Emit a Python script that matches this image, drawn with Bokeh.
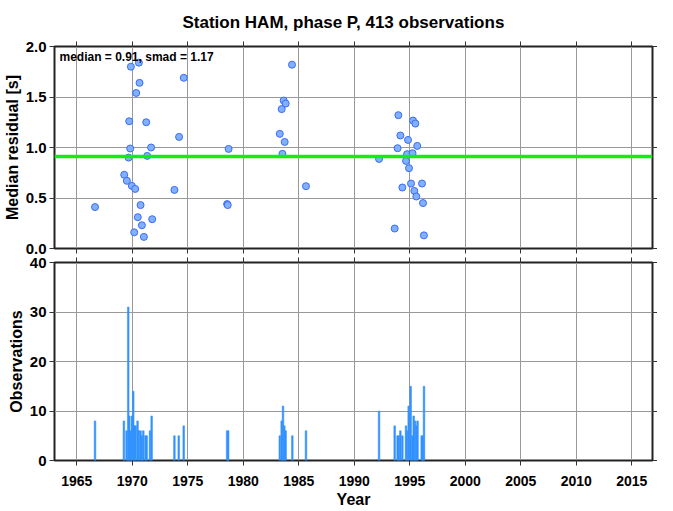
from bokeh.plotting import figure
from bokeh.layouts import column
from bokeh.models import (Range1d, FixedTicker, LinearAxis, PrintfTickFormatter,
                          Label, Span)
from bokeh.embed import file_html
from bokeh.resources import INLINE

# ---------------- data ----------------
title_text = "Station HAM, phase P, 413 observations"
median_val = 0.91
smad_val = 1.17

pt_year = [1966.65, 1969.88, 1970.6, 1974.64, 1970.66, 1970.36, 1969.73, 1971.26, 1974.22,
           1969.82, 1971.7, 1978.68, 1969.67, 1971.35, 1969.28, 1969.52, 1969.97, 1970.27,
           1973.8, 1978.55, 1978.6, 1970.75, 1970.5, 1971.8, 1970.87, 1970.18, 1971.05,
           1984.39, 1983.64, 1983.82, 1983.46, 1983.29, 1983.73, 1983.53, 1985.65, 1992.23,
           1993.64, 1993.97, 1995.29, 1995.5, 1994.15, 1994.84, 1995.67, 1993.9, 1994.75,
           1995.25, 1994.66, 1994.93, 1995.11, 1996.1, 1994.33, 1995.41, 1995.59, 1996.19,
           1996.27]
pt_val = [0.41, 1.80, 1.84, 1.69, 1.64, 1.54, 1.26, 1.25, 1.105,
          0.99, 1.00, 0.986, 0.90, 0.917, 0.73, 0.67, 0.62, 0.59,
          0.58, 0.44, 0.43, 0.43, 0.31, 0.29, 0.23, 0.16, 0.115,
          1.82, 1.465, 1.435, 1.38, 1.135, 1.055, 0.937, 0.617, 0.887,
          0.198, 1.32, 1.267, 1.237, 1.119, 1.075, 1.016, 0.993, 0.934,
          0.943, 0.867, 0.795, 0.643, 0.643, 0.604, 0.57, 0.515, 0.45,
          0.13]

bar_year = [1966.65, 1969.25, 1969.49, 1969.64, 1969.73, 1969.85, 1969.97, 1970.09, 1970.21,
            1970.3, 1970.48, 1970.6, 1970.75, 1970.87, 1971.0, 1971.2, 1971.3, 1971.6,
            1971.75, 1973.8, 1974.19, 1974.64, 1978.55, 1978.64, 1983.29, 1983.46, 1983.58,
            1983.7, 1983.82, 1984.42, 1985.65, 1992.23, 1993.64, 1993.9, 1994.0, 1994.15,
            1994.33, 1994.66, 1994.75, 1994.9, 1995.08, 1995.23, 1995.35, 1995.47, 1995.59,
            1995.7, 1996.07, 1996.16, 1996.28]
bar_count = [8, 8, 6, 31, 9, 6, 9, 14, 7,
             7, 8, 6, 6, 5, 6, 5, 5, 6,
             9, 5, 5, 7, 6, 6, 5, 8, 11,
             7, 6, 5, 6, 10, 7, 5, 5, 6,
             5, 7, 6, 11, 15, 5, 9, 8, 7,
             8, 5, 5, 15]

x_ticks = [1965, 1970, 1975, 1980, 1985, 1990, 1995, 2000, 2005, 2010, 2015]
top_y_ticks = [0.0, 0.5, 1.0, 1.5, 2.0]
bot_y_ticks = [0, 10, 20, 30, 40]
x_start, x_end = 1963.0, 2016.86

FONT = "Liberation Sans"
W = 657


def style_axis(ax, ticks, labels=True, size="15px"):
    ax.ticker = FixedTicker(ticks=ticks)
    ax.axis_line_color = None
    ax.major_tick_out = 5
    ax.major_tick_in = 0
    ax.minor_tick_out = 0
    ax.minor_tick_in = 0
    ax.major_tick_line_color = "#333333"
    ax.major_tick_line_width = 1
    ax.major_label_text_font = FONT
    ax.major_label_text_font_style = "bold"
    ax.major_label_text_color = "black"
    ax.major_label_text_font_size = size
    ax.axis_label_text_font = FONT
    ax.axis_label_text_font_style = "bold"
    ax.axis_label_text_color = "black"
    ax.axis_label_text_font_size = "16px"
    if labels:
        ax.major_label_standoff = 3
    else:
        ax.major_label_overrides = {t: "" for t in ticks}
        ax.major_label_standoff = 0
        ax.axis_label_standoff = 0


def base_fig(h, yr, yt, border_top, border_bottom, x_labels):
    p = figure(width=W, height=h, output_backend="svg", toolbar_location=None,
               x_range=Range1d(x_start, x_end), y_range=yr,
               min_border_left=47, min_border_right=0,
               min_border_top=border_top, min_border_bottom=border_bottom)
    p.outline_line_color = "#222222"
    p.outline_line_width = 2
    p.background_fill_color = "white"
    p.border_fill_color = "white"
    p.xgrid.ticker = FixedTicker(ticks=x_ticks)
    p.ygrid.ticker = FixedTicker(ticks=yt)
    for g in (p.xgrid[0], p.ygrid[0]):
        g.grid_line_color = "#999999"
        g.grid_line_width = 1
    style_axis(p.left[0], yt)
    style_axis(p.below[0], x_ticks, labels=x_labels, size="14px")
    top = LinearAxis()
    style_axis(top, x_ticks, labels=False)
    p.add_layout(top, "above")
    right = LinearAxis()
    style_axis(right, yt, labels=False)
    p.add_layout(right, "right")
    return p


# ---------------- top panel ----------------
p1 = base_fig(255, Range1d(0, 2.0), top_y_ticks, 46, 7, False)
p1.title.text = title_text
p1.title.align = "left"
p1.title.offset = 128
p1.title.text_font = FONT
p1.title.text_font_style = "bold"
p1.title.text_font_size = "17px"
p1.title.text_color = "black"
p1.title.standoff = 20
p1.left[0].formatter = PrintfTickFormatter(format="%.1f")
p1.left[0].axis_label = "Median residual [s]"
p1.left[0].axis_label_standoff = 2

p1.add_layout(Span(location=median_val, dimension="width", line_color="#11ee11",
                   line_width=3.5))
p1.scatter(pt_year, pt_val, size=7, fill_color="#80b0ff", line_color="#3a6cf5",
           line_width=1)
p1.add_layout(Label(x=x_start, y=2.0, x_offset=5, y_offset=-3, text_baseline="top",
                    text=f"median = {median_val:.2f}, smad = {smad_val:.2f}",
                    text_font=FONT, text_font_style="bold", text_font_size="12px",
                    text_color="black"))

# ---------------- bottom panel ----------------
p2 = base_fig(255, Range1d(0, 40), bot_y_ticks, 7, 0, True)
p2.left[0].axis_label = "Observations"
p2.left[0].axis_label_standoff = 2
bx = p2.below[0]
bx.major_label_standoff = 10
bx.axis_label = "Year"
bx.axis_label_standoff = 2

p2.vbar(x=bar_year, top=bar_count, bottom=0, width=0.15, fill_color="#3392ff",
        line_color="#3392ff", line_width=0.5)

layout = column(p1, p2, spacing=0)
open("out.html", "w").write(file_html(layout, INLINE))
